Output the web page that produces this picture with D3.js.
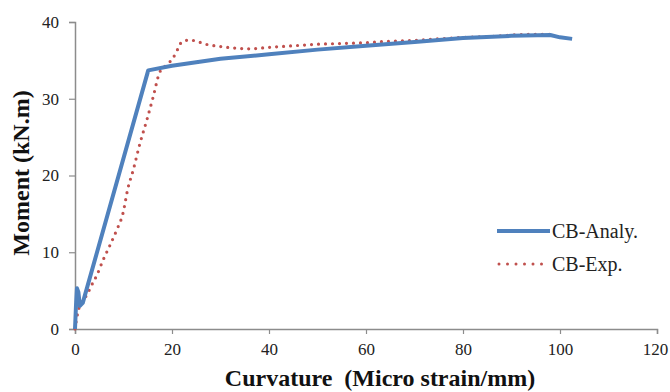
<!DOCTYPE html>
<html><head><meta charset="utf-8">
<script src="https://cdn.jsdelivr.net/npm/d3@7/dist/d3.min.js"></script>
<style>body{margin:0;background:#fff;}svg{display:block;} text{font-family:"Liberation Serif","Times New Roman",serif !important;}</style>
</head><body>
<svg id="c" width="670" height="392"></svg>
<script>
const xTicks = [0, 20, 40, 60, 80, 100, 120];
const yTicks = [0, 10, 20, 30, 40];
const seriesNames = ["CB-Analy.", "CB-Exp."];
const analyCurv = [0, 0.2, 0.4, 0.7, 1.0, 1.6, 15.1, 20, 30, 40, 50, 60, 70, 80, 90, 98, 100, 102.5];
const analyMom  = [0, 3.0, 5.3, 4.8, 3.0, 3.4, 33.7, 34.3, 35.2, 35.8, 36.4, 36.9, 37.4, 37.9, 38.2, 38.3, 38.0, 37.8];
const expCurv = [0, 0.3, 0.6, 1.2, 2.5, 3.5, 4.5, 5.8, 7.2, 8.6, 9.9, 10.9, 12, 13.4, 14.8, 16.1, 17.5, 18.9, 20.2, 21.3, 22, 23.7, 25, 27, 30, 33, 36, 40, 45, 50, 55, 60, 65, 70, 75, 80, 85, 90, 95, 98.4];
const expMom  = [0, 1.2, 2.2, 3.3, 4.5, 5.8, 7.0, 9.0, 10.9, 12.9, 15.1, 18.3, 20.7, 24.2, 27.2, 30.2, 33.5, 34.4, 35.3, 36.6, 37.4, 37.65, 37.5, 37.1, 36.8, 36.6, 36.5, 36.7, 36.9, 37.1, 37.2, 37.3, 37.5, 37.6, 37.8, 38.0, 38.1, 38.3, 38.4, 38.4];

const svg = d3.select("#c");
const x = d3.scaleLinear().domain([0, 120]).range([75, 657]);
const y = d3.scaleLinear().domain([0, 40]).range([329, 22]);
const axisColor = "#8c8c8c";
const font = "'Liberation Serif', 'Times New Roman', serif";

const xa = svg.append("g").attr("transform", "translate(0,329)")
  .call(d3.axisBottom(x).tickValues(xTicks).tickSize(5).tickPadding(9));
const ya = svg.append("g").attr("transform", "translate(75,0)")
  .call(d3.axisLeft(y).tickValues(yTicks).tickSize(6).tickPadding(10));
[xa, ya].forEach(a => {
  a.attr("font-family", font);
  a.select(".domain").attr("stroke", axisColor).attr("stroke-width", 1.5);
  a.selectAll(".tick line").attr("stroke", axisColor).attr("stroke-width", 1.2);
  a.selectAll("text").attr("font-size", 17).attr("fill", "#222");
});
xa.selectAll(".tick text").filter(d => d === 120).attr("dx", -2);

const line = d3.line().x(d => x(d[0])).y(d => y(d[1]));
const analy = analyCurv.map((c, i) => [c, analyMom[i]]);
const exp = expCurv.map((c, i) => [c, expMom[i]]);

svg.append("path").datum(exp).attr("d", d3.line().x(d => x(d[0])).y(d => y(d[1])).curve(d3.curveMonotoneX))
  .attr("fill", "none").attr("stroke", "#C0504D").attr("stroke-width", 3.2)
  .attr("stroke-linecap", "round").attr("stroke-dasharray", "0,7");
svg.append("path").datum(analy).attr("d", line)
  .attr("fill", "none").attr("stroke", "#4F81BD").attr("stroke-width", 4)
  .attr("stroke-linejoin", "round");

// legend
const lg = svg.append("g");
lg.append("line").attr("x1", 497).attr("x2", 550).attr("y1", 231).attr("y2", 231)
  .attr("stroke", "#4F81BD").attr("stroke-width", 4);
lg.append("line").attr("x1", 499).attr("x2", 546).attr("y1", 264).attr("y2", 264)
  .attr("stroke", "#C0504D").attr("stroke-width", 3).attr("stroke-linecap", "round").attr("stroke-dasharray", "0,8.5");
lg.selectAll("text.l").data(seriesNames).enter().append("text")
  .attr("x", 552).attr("y", (d, i) => 238 + i * 33)
  .attr("font-family", font).attr("font-size", 20).attr("fill", "#222").text(d => d);

svg.append("text").attr("x", 380).attr("y", 386).attr("text-anchor", "middle")
  .attr("font-family", font).attr("font-size", 24).attr("font-weight", "bold").attr("fill", "#111")
  .style("white-space", "pre")
  .text("Curvature  (Micro strain/mm)");
svg.append("text").attr("transform", "translate(29,173) rotate(-90)").attr("text-anchor", "middle")
  .attr("font-family", font).attr("font-size", 24).attr("font-weight", "bold").attr("fill", "#111")
  .text("Moment (kN.m)");
</script>
</body></html>
